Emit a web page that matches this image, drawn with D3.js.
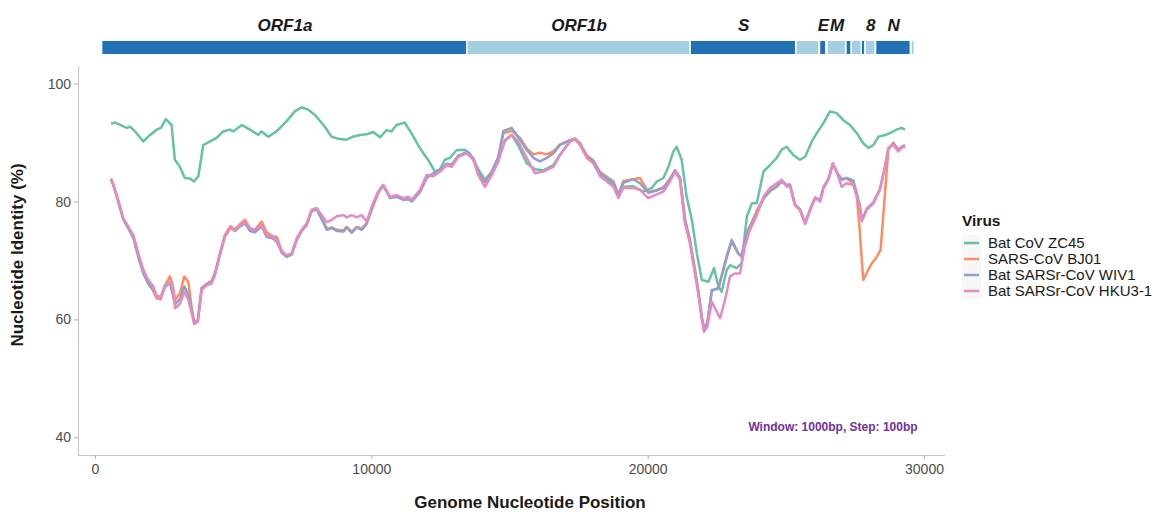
<!DOCTYPE html>
<html lang="en">
<head>
    <meta charset="UTF-8">
    <title>Nucleotide identity</title>
    <style>
        body { margin: 0; background: #fff; }
        svg { display: block; font-family: "Liberation Sans", Arial, sans-serif; }
    </style>
</head>
<body>
    <div id="chartContainer"></div>

    <script src="https://cdnjs.cloudflare.com/ajax/libs/d3/7.8.5/d3.min.js"></script>
    <script>
        // Genome annotation (start, end, label)
        const genes = [
            ["ORF1a", 266, 13483, "ORF1a"],
            ["ORF1b", 13483, 21555, "ORF1b"],
            ["S", 21563, 25384, "S"],
            ["ORF3a", 25393, 26220, ""],
            ["E", 26245, 26472, "E"],
            ["M", 26523, 27191, "M"],
            ["ORF6", 27202, 27387, ""],
            ["ORF7a", 27394, 27759, ""],
            ["ORF7b", 27756, 27887, ""],
            ["ORF8", 27894, 28259, "8"],
            ["N", 28274, 29533, "N"],
            ["ORF10", 29558, 29674, ""]
        ];

        const viruses = ["Bat CoV ZC45", "SARS-CoV BJ01", "Bat SARSr-CoV WIV1", "Bat SARSr-CoV HKU3-1"];
        const colors = ["#66c2a5", "#fc8d62", "#8da0cb", "#e78ac3"];

        const xTicks = [0, 10000, 20000, 30000];
        const yTicks = [40, 60, 80, 100];

        // [position, identity %]
        const zc45 = [[580,93.2],[720,93.4],[970,92.9],[1150,92.5],[1270,92.7],[1450,91.9],[1750,90.2],[1990,91.3],[2230,92.2],[2390,92.5],[2560,94.0],[2770,93.0],[2890,87.1],[3070,85.9],[3250,84.0],[3440,83.9],[3580,83.4],[3740,84.3],[3920,89.6],[4160,90.2],[4400,90.8],[4640,91.9],[4880,92.2],[5000,91.9],[5310,93.0],[5610,92.2],[5910,91.3],[6030,91.9],[6270,91.0],[6570,91.9],[6930,93.6],[7230,95.3],[7480,96.0],[7710,95.6],[7960,94.7],[8320,92.7],[8560,91.0],[8860,90.6],[9100,90.5],[9340,91.0],[9580,91.3],[9830,91.4],[10070,91.8],[10310,90.9],[10550,92.1],[10730,91.9],[10910,93.0],[11210,93.4],[11450,91.6],[11750,89.1],[12050,87.1],[12300,85.1],[12480,85.4],[12660,87.1],[12840,87.4],[13080,88.7],[13380,88.8],[13560,88.2],[13870,85.5],[14110,83.7],[14360,85.0],[14600,87.5],[14840,90.3],[15080,91.3],[15320,89.5],[15620,86.5],[15920,85.5],[16220,85.3],[16590,86.2],[16830,88.0],[17190,90.2],[17370,90.6],[17550,89.8],[17800,87.6],[18030,86.7],[18280,84.6],[18520,83.7],[18760,82.8],[18940,81.0],[19120,82.5],[19480,82.6],[19840,81.7],[20150,82.3],[20330,83.4],[20570,84.0],[20750,85.9],[20930,88.5],[21050,89.3],[21230,87.1],[21410,80.8],[21600,76.9],[21780,71.2],[21960,66.7],[22200,66.4],[22400,68.7],[22560,65.6],[22680,64.7],[22860,68.4],[22980,69.2],[23220,68.7],[23400,69.5],[23590,77.5],[23770,79.7],[23950,79.7],[24190,85.1],[24430,86.2],[24670,87.4],[24850,88.8],[25030,89.3],[25270,87.9],[25510,87.1],[25700,87.6],[25940,90.2],[26120,91.6],[26360,93.3],[26600,95.3],[26840,95.0],[27080,93.8],[27320,93.0],[27570,91.6],[27800,89.9],[27990,89.1],[28170,89.6],[28350,91.0],[28590,91.3],[28770,91.6],[29010,92.2],[29190,92.5],[29310,92.2]];

        const bj01 = [[580,83.6],[660,82.9],[840,80.1],[1020,77.1],[1200,75.6],[1390,74.0],[1570,70.8],[1750,68.0],[1930,66.2],[2110,64.8],[2230,63.6],[2380,63.4],[2530,65.8],[2710,67.3],[2800,66.0],[2900,63.3],[3080,64.5],[3230,67.3],[3380,66.3],[3500,62.0],[3590,59.6],[3720,59.9],[3860,65.3],[4040,66.0],[4220,66.5],[4340,67.8],[4520,71.2],[4700,74.3],[4890,75.8],[5070,75.3],[5250,76.2],[5430,76.9],[5610,75.4],[5790,75.2],[6030,76.6],[6210,74.8],[6400,74.2],[6580,74.0],[6760,71.6],[6940,70.8],[7120,71.1],[7300,73.6],[7480,75.1],[7660,76.1],[7840,78.5],[8020,78.8],[8200,77.2],[8390,75.4],[8570,75.6],[8750,75.2],[8990,75.1],[9110,75.7],[9290,74.9],[9470,75.7],[9650,75.4],[9830,76.3],[10010,78.7],[10250,81.6],[10430,82.8],[10680,80.7],[10920,80.9],[11160,80.4],[11340,80.5],[11460,80.1],[11760,81.7],[12000,84.1],[12240,84.6],[12490,85.3],[12730,86.3],[12910,86.2],[13150,87.7],[13450,88.3],[13690,87.3],[13870,85.0],[14110,83.4],[14360,85.1],[14600,87.5],[14780,91.6],[15080,92.0],[15380,90.8],[15620,89.0],[15870,88.0],[16100,88.3],[16350,88.0],[16590,88.5],[16830,89.7],[17190,90.4],[17370,90.7],[17550,89.9],[17800,87.8],[18030,87.0],[18280,85.0],[18520,84.2],[18760,83.4],[18940,81.2],[19120,83.5],[19480,83.8],[19720,84.0],[20020,81.6],[20270,81.9],[20570,82.4],[20810,83.9],[20990,85.3],[21170,84.0],[21350,77.0],[21530,73.5],[21710,68.5],[21830,65.0],[21960,60.5],[22040,58.5],[22160,59.5],[22320,64.8],[22560,65.4],[22860,70.5],[23040,73.2],[23280,71.2],[23400,70.6],[23580,74.7],[23770,76.5],[23950,78.5],[24190,80.5],[24430,81.8],[24670,82.5],[24850,83.4],[25030,82.7],[25150,82.8],[25330,79.4],[25510,78.6],[25700,76.2],[25880,78.6],[26060,80.6],[26240,80.1],[26360,82.4],[26540,83.8],[26700,86.4],[26840,85.0],[27020,83.7],[27200,84.0],[27440,83.0],[27560,81.5],[27680,74.7],[27800,66.7],[27950,68.1],[28110,69.5],[28290,70.6],[28430,71.8],[28590,81.5],[28710,88.8],[28890,90.0],[29070,88.8],[29190,89.3],[29310,89.6]];

        const wiv1 = [[580,83.9],[660,83.0],[840,80.0],[1020,77.0],[1200,75.5],[1390,73.8],[1570,70.5],[1750,67.8],[1930,66.0],[2110,65.0],[2230,64.0],[2380,63.8],[2530,65.5],[2710,66.2],[2800,64.5],[2900,62.6],[3080,63.5],[3230,65.6],[3380,64.2],[3500,61.5],[3590,59.4],[3720,59.8],[3860,65.3],[4040,66.0],[4220,66.5],[4340,67.8],[4520,71.0],[4700,74.0],[4890,75.5],[5070,75.0],[5250,75.8],[5430,76.3],[5610,75.0],[5790,74.8],[6030,75.8],[6210,74.0],[6400,73.8],[6580,73.2],[6760,71.3],[6940,70.6],[7120,71.0],[7300,73.5],[7480,75.0],[7660,76.0],[7840,78.4],[8020,78.7],[8200,77.0],[8390,75.2],[8570,75.5],[8750,75.0],[8990,74.9],[9110,75.6],[9290,74.7],[9470,75.6],[9650,75.2],[9830,76.2],[10010,78.6],[10250,81.5],[10430,82.7],[10680,80.6],[10920,80.8],[11160,80.3],[11340,80.4],[11460,80.0],[11760,81.6],[12000,84.0],[12240,84.8],[12490,85.5],[12730,86.4],[12910,86.3],[13150,87.8],[13450,88.4],[13690,87.4],[13870,85.0],[14110,83.3],[14360,85.0],[14600,87.6],[14780,92.0],[15080,92.5],[15380,90.5],[15620,88.8],[15870,87.4],[16100,86.8],[16350,87.4],[16590,88.2],[16830,89.6],[17190,90.4],[17370,90.6],[17550,89.8],[17800,87.6],[18030,86.8],[18280,84.8],[18520,84.0],[18760,83.2],[18940,81.0],[19120,83.2],[19480,83.8],[19720,83.1],[20020,81.5],[20270,81.8],[20570,82.3],[20810,83.8],[20990,85.3],[21170,84.0],[21350,77.0],[21530,73.3],[21710,68.3],[21830,64.8],[21960,60.3],[22040,58.4],[22160,59.3],[22320,65.0],[22560,65.2],[22860,70.7],[23040,73.5],[23280,71.2],[23400,70.7],[23580,74.7],[23770,76.3],[23950,78.0],[24190,80.5],[24430,81.8],[24670,82.6],[24850,83.5],[25030,82.8],[25150,82.9],[25330,79.5],[25510,78.7],[25700,76.4],[25880,78.7],[26060,80.7],[26240,80.2],[26360,82.4],[26540,83.8],[26700,86.4],[26840,85.0],[27020,83.8],[27200,84.0],[27440,83.6],[27680,79.4],[27750,76.9],[27930,78.8],[28170,79.9],[28410,82.2],[28590,86.0],[28710,89.0],[28890,89.8],[29070,88.8],[29190,89.2],[29310,89.5]];

        const hku3 = [[580,83.7],[660,82.8],[840,80.3],[1020,77.2],[1200,75.8],[1390,74.3],[1570,71.2],[1750,68.4],[1930,66.7],[2110,65.6],[2230,63.9],[2380,63.6],[2530,65.8],[2710,66.4],[2800,65.6],[2900,61.9],[3080,62.7],[3230,64.7],[3380,63.3],[3500,61.0],[3590,59.2],[3720,59.6],[3860,65.0],[4040,65.8],[4220,66.1],[4340,67.5],[4520,70.9],[4700,74.1],[4890,75.5],[5070,75.2],[5250,76.0],[5430,76.6],[5610,75.5],[5790,75.2],[6030,76.0],[6210,74.3],[6400,74.1],[6580,73.5],[6760,71.5],[6940,70.9],[7120,71.2],[7300,73.8],[7480,75.2],[7660,76.3],[7840,78.6],[8020,78.9],[8200,77.7],[8390,76.5],[8570,76.9],[8750,77.5],[8990,77.7],[9110,77.3],[9290,77.7],[9470,77.3],[9650,77.7],[9830,76.6],[10010,79.1],[10250,81.7],[10430,82.8],[10680,80.8],[10920,81.1],[11160,80.6],[11340,80.8],[11460,80.3],[11760,82.0],[12000,84.5],[12240,84.3],[12490,85.1],[12730,86.2],[12910,85.9],[13150,87.6],[13450,88.2],[13690,87.1],[13870,84.5],[14110,82.5],[14360,84.5],[14600,86.8],[14840,90.5],[15080,91.3],[15320,90.2],[15620,87.4],[15920,84.8],[16220,85.1],[16590,85.9],[16830,87.9],[17190,90.2],[17370,90.6],[17550,89.6],[17800,87.4],[18030,86.5],[18280,84.3],[18520,83.4],[18760,82.5],[18940,80.6],[19120,82.3],[19480,82.3],[19720,82.0],[20020,80.6],[20270,81.1],[20570,81.7],[20810,83.4],[20990,85.1],[21170,83.7],[21350,76.3],[21530,72.9],[21710,67.8],[21830,64.4],[21960,59.9],[22040,57.9],[22160,58.8],[22320,63.0],[22470,61.6],[22620,60.2],[22800,63.3],[22980,67.3],[23160,67.8],[23340,67.8],[23520,72.4],[23700,75.2],[23950,77.7],[24190,80.8],[24430,82.3],[24670,83.1],[24850,83.7],[25030,82.5],[25150,82.7],[25330,79.4],[25510,78.6],[25700,76.3],[25880,78.6],[26060,80.6],[26240,80.0],[26360,82.3],[26540,83.7],[26700,86.5],[26840,85.1],[27020,82.5],[27200,83.1],[27440,82.8],[27680,79.1],[27750,76.6],[27930,78.6],[28170,79.7],[28410,82.0],[28590,85.9],[28710,89.1],[28890,89.6],[29070,88.5],[29190,89.1],[29310,89.3]];

        const seriesData = [zc45, bj01, wiv1, hku3];

        const width = 1172, height = 513;
        const panel = {left: 78, right: 945, top: 66, bottom: 455};

        const svg = d3.select("#chartContainer")
            .append("svg")
                .attr("width", width)
                .attr("height", height);

        svg.append("rect").attr("width", width).attr("height", height).attr("fill", "#fff");

        // x scale: 0 sits at 95px, 30000 at 924px
        const x = d3.scaleLinear()
            .domain([-615, 30760])
            .range([panel.left, panel.right]);

        const y = d3.scaleLinear()
            .domain([37, 103])
            .range([panel.bottom, panel.top]);

        // gene bar on top
        const geneBar = svg.append("g");
        geneBar.selectAll("rect")
            .data(genes)
            .join("rect")
                .attr("x", d => x(d[1]))
                .attr("y", 41)
                .attr("width", d => Math.max(1.5, x(d[2]) - x(d[1]) - 1.5))
                .attr("height", 13)
                .attr("fill", (d, i) => i % 2 === 0 ? "#2171b5" : "#a6cee3");

        geneBar.selectAll("text")
            .data(genes.filter(d => d[3] !== ""))
            .join("text")
                .attr("x", d => x((d[1] + d[2]) / 2))
                .attr("y", 31)
                .attr("text-anchor", "middle")
                .attr("font-size", 17)
                .attr("font-weight", "bold")
                .attr("font-style", "italic")
                .attr("fill", "#1a1a1a")
                .text(d => d[3]);

        // axes
        const xAxis = svg.append("g")
            .attr("transform", "translate(0," + panel.bottom + ")")
            .call(d3.axisBottom(x).tickValues(xTicks).tickSize(4).tickSizeOuter(0).tickFormat(d3.format("d")));

        const yAxis = svg.append("g")
            .attr("transform", "translate(" + panel.left + ",0)")
            .call(d3.axisLeft(y).tickValues(yTicks).tickSize(4).tickSizeOuter(0));

        [xAxis, yAxis].forEach(a => {
            a.select(".domain").attr("stroke", "#c8c8c8").attr("stroke-width", 1.2);
            a.selectAll(".tick line").attr("stroke", "#b0b0b0");
            a.selectAll(".tick text")
                .attr("fill", "#4d4d4d")
                .attr("font-size", 14)
                .attr("font-family", "'Liberation Sans', Arial, sans-serif");
        });
        xAxis.selectAll(".tick text").attr("dy", "0.85em");

        // lines
        const line = d3.line()
            .x(d => x(d[0]))
            .y(d => y(d[1]));

        svg.append("g")
            .selectAll("path")
            .data(seriesData)
            .join("path")
                .attr("fill", "none")
                .attr("stroke", (d, i) => colors[i])
                .attr("stroke-width", 2.5)
                .attr("stroke-linejoin", "round")
                .attr("d", line);

        // window annotation
        svg.append("text")
            .attr("x", 833)
            .attr("y", 431)
            .attr("text-anchor", "middle")
            .attr("font-size", 12)
            .attr("font-weight", "bold")
            .attr("fill", "#7030a0")
            .text("Window: 1000bp, Step: 100bp");

        // axis titles
        svg.append("text")
            .attr("transform", "translate(23,255) rotate(-90)")
            .attr("text-anchor", "middle")
            .attr("font-size", 17)
            .attr("font-weight", "bold")
            .attr("fill", "#1a1a1a")
            .text("Nucleotide Identity (%)");

        svg.append("text")
            .attr("x", 530)
            .attr("y", 508)
            .attr("text-anchor", "middle")
            .attr("font-size", 17)
            .attr("font-weight", "bold")
            .attr("fill", "#1a1a1a")
            .text("Genome Nucleotide Position");

        // legend
        const legend = svg.append("g").attr("transform", "translate(962,0)");
        legend.append("text")
            .attr("x", 0)
            .attr("y", 226)
            .attr("font-size", 15.5)
            .attr("font-weight", "bold")
            .attr("fill", "#1a1a1a")
            .text("Virus");

        const items = legend.selectAll("g.item")
            .data(viruses)
            .join("g")
                .attr("class", "item")
                .attr("transform", (d, i) => "translate(0," + (243 + i * 16) + ")");

        items.append("rect")
            .attr("x", 0).attr("y", -8)
            .attr("width", 19).attr("height", 16)
            .attr("fill", "#f7f7f7");
        items.append("line")
            .attr("x1", 2).attr("x2", 17)
            .attr("stroke", (d, i) => colors[i])
            .attr("stroke-width", 2.5);
        items.append("text")
            .attr("x", 26)
            .attr("dy", "0.36em")
            .attr("font-size", 15)
            .attr("fill", "#1a1a1a")
            .text(d => d);
    </script>
</body>
</html>
